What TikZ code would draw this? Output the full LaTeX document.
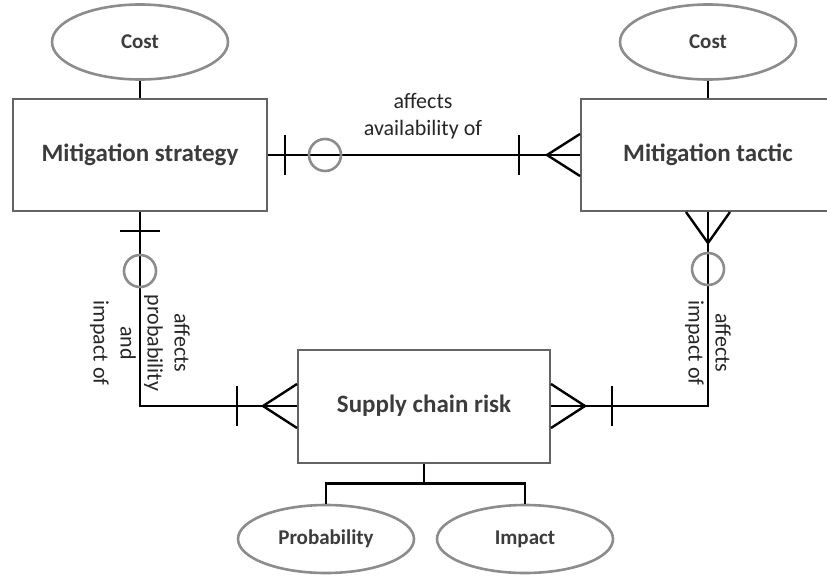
\documentclass[tikz,border=0pt]{standalone}
\usepackage{fontspec}
\setmainfont{Carlito}
\usetikzlibrary{shapes.geometric,calc}
\definecolor{grisBorde}{RGB}{100,100,100}
\definecolor{grisElipse}{RGB}{140,140,140}
\definecolor{grisTexto}{RGB}{60,60,60}

\begin{document}
\begin{tikzpicture}[x=1pt,y=-1pt,
  entity/.style = {rectangle, minimum width=254pt, minimum height=112pt,
                   draw=grisBorde, line width=2pt, fill=white,
                   font=\fontsize{25}{29}\selectfont\bfseries, text=grisTexto},
  attr/.style   = {ellipse, minimum width=176pt, minimum height=75pt,
                   draw=grisElipse, line width=2.6pt, fill=white,
                   font=\fontsize{21}{25}\selectfont\bfseries, text=grisTexto},
  link/.style   = {line width=2.4pt, color=black},
  ring/.style   = {circle, minimum size=32pt, inner sep=0pt,
                   draw=grisElipse, line width=2.6pt},
  lbl/.style    = {font=\fontsize{22}{27}\selectfont, align=center, text=black!85},
]
\useasboundingbox (0,0) rectangle (827,581);

% ── Entidades ────────────────────────────────────────────────
\node[entity] (strat) at (140,155) {Mitigation strategy};
\node[entity] (tact)  at (708,155) {Mitigation tactic};
\node[entity,minimum width=252pt,minimum height=113pt] (risk) at (424,406) {Supply chain risk};

% ── Atributos ────────────────────────────────────────────────
\node[attr] (costS) at (140,42) {Cost};
\node[attr] (costT) at (708,42) {Cost};
\node[attr,minimum height=68pt] (prob) at (326,539) {Probability};
\node[attr,minimum height=68pt] (imp)  at (525,539) {Impact};

\draw[link] (costS.south) -- (strat.north);
\draw[link] (costT.south) -- (tact.north);
\coordinate (j) at ($(risk.south)+(0,20)$);
\draw[link] (risk.south) -- (j);
\draw[link] (prob.north) |- (j) -| (imp.north);

% ── Relación: estrategia -- táctica ──────────────────────────
\draw[link] (strat.east) -- (tact.west);
\draw[link] ($(strat.east)+(17,-20)$) -- ($(strat.east)+(17,20)$);
\node[ring] (o1) at ($(strat.east)+(57,0)$) {};
\draw[link] ($(tact.west)+(-61,-20)$) -- ($(tact.west)+(-61,20)$);
\draw[link] ($(tact.west)+(0,-21)$) -- ($(tact.west)+(-33,0)$) -- ($(tact.west)+(0,21)$);
\node[lbl] (r1) at (423,116) {affects\\availability of};

% ── Relación: estrategia -- riesgo ───────────────────────────
\coordinate (k1) at (strat.south |- risk.west);
\draw[link] (strat.south) -- (k1) -- (risk.west);
\draw[link] ($(strat.south)+(-20,19)$) -- ($(strat.south)+(20,19)$);
\node[ring] (o2) at ($(strat.south)+(0,59)$) {};
\draw[link] ($(risk.west)+(-60,-20)$) -- ($(risk.west)+(-60,20)$);
\draw[link] ($(risk.west)+(0,-22)$) -- ($(risk.west)+(-34,0)$) -- ($(risk.west)+(0,22)$);
\node[lbl,rotate=-90] (r2) at (140,343) {affects\\probability\\and\\impact of};

% ── Relación: riesgo -- táctica ──────────────────────────────
\coordinate (k2) at (tact.south |- risk.east);
\draw[link] (risk.east) -- (k2) -- (tact.south);
\draw[link] ($(risk.east)+(0,-22)$) -- ($(risk.east)+(34,0)$) -- ($(risk.east)+(0,22)$);
\draw[link] ($(risk.east)+(61,-20)$) -- ($(risk.east)+(61,20)$);
\draw[link] ($(tact.south)+(-22,0)$) -- ($(tact.south)+(0,31)$) -- ($(tact.south)+(22,0)$);
\node[ring] (o3) at ($(tact.south)+(0,57)$) {};
\node[lbl,rotate=-90] (r3) at (708,343) {affects\\impact of};

\end{tikzpicture}
\end{document}
